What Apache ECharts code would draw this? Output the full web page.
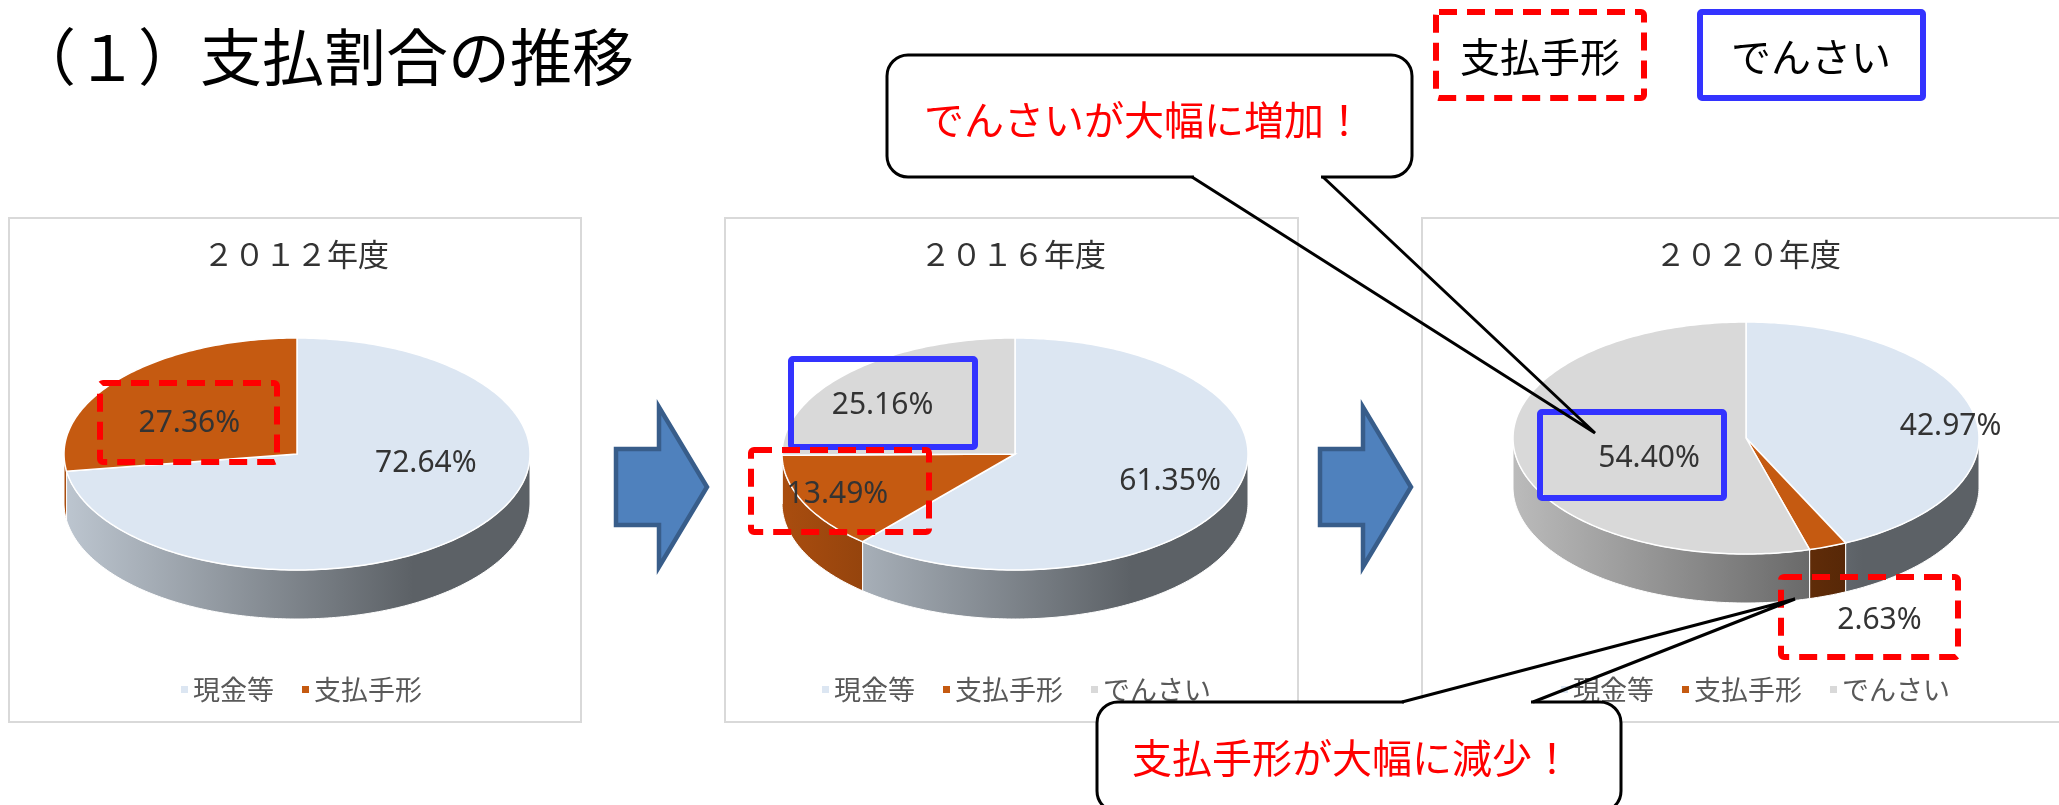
<!DOCTYPE html>
<html lang="ja">
<head>
<meta charset="UTF-8">
<title>支払割合の推移</title>
<style>
  html, body { margin: 0; padding: 0; background: #fff; }
  #main { width: 2059px; height: 805px; }
</style>
</head>
<body>
<div id="main"></div>
<script src="https://cdn.jsdelivr.net/npm/echarts@6/dist/echarts.min.js"></script>
<script>
  // data
  const categories = ['現金等', '支払手形', 'でんさい']
  const years = ['２０１２年度', '２０１６年度', '２０２０年度']
  const share2012 = [72.64, 27.36]
  const share2016 = [61.35, 13.49, 25.16]
  const share2020 = [42.97, 2.63, 54.40]

  const sliceColors = ['#dce6f2', '#c55a11', '#d9d9d9']
  const jp = '"Noto Sans CJK JP", sans-serif'

  // layout of the three pie panels (label = radius factors x/y for the % label)
  const panels = [
    { year: years[0], values: share2012, cx: 297, cy: 454, titleLeft: 203, legendLeft: 176,
      label: [[0.73, 0.12], [0.61, 0.40]] },
    { year: years[1], values: share2016, cx: 1015, cy: 454, titleLeft: 920, legendLeft: 817,
      label: [[0.71, 0.67], [0.84, 0.82], [0.80, 0.59]] },
    { year: years[2], values: share2020, cx: 1746, cy: 438, titleLeft: 1655, legendLeft: 1556,
      label: [[0.90, 0.47], [1.63, 1.68], [0.42, 1.25]] }
  ]
  const rx = 233, ry = 116, depth = 49

  function shade(hex, f) {
    const n = parseInt(hex.slice(1), 16)
    const r = Math.round(((n >> 16) & 255) * f)
    const g = Math.round(((n >> 8) & 255) * f)
    const b = Math.round((n & 255) * f)
    return 'rgb(' + r + ',' + g + ',' + b + ')'
  }

  function makeRender(p, k) {
    return function (params, api) {
      const a0 = api.value(0) * 360
      const a1 = api.value(1) * 360
      const val = api.value(2)
      const pt = (deg, dy) => {
        const r = deg * Math.PI / 180
        return [p.cx + rx * Math.sin(r), p.cy - ry * Math.cos(r) + (dy || 0)]
      }
      const children = []
      // front wall
      const s0 = Math.max(a0, 90), s1 = Math.min(a1, 270)
      if (s1 > s0) {
        const pts = []
        for (let d = s0; d < s1; d += 1) pts.push(pt(d))
        pts.push(pt(s1))
        for (let d = s1; d > s0; d -= 1) pts.push(pt(d, depth))
        pts.push(pt(s0, depth))
        const c = sliceColors[k]
        children.push({
          type: 'polygon', z2: 1, shape: { points: pts },
          style: {
            fill: new echarts.graphic.LinearGradient(p.cx - rx, 0, p.cx + rx, 0, [
              { offset: 0, color: shade(c, 0.86) },
              { offset: 0.75, color: shade(c, 0.42) },
              { offset: 1, color: shade(c, 0.42) }
            ], true),
            stroke: '#fff', lineWidth: 1
          }
        })
      }
      // top face
      const top = [[p.cx, p.cy]]
      for (let d = a0; d < a1; d += 1) top.push(pt(d))
      top.push(pt(a1))
      children.push({
        type: 'polygon', z2: 5, shape: { points: top },
        style: { fill: sliceColors[k], stroke: '#fff', lineWidth: 1.5 }
      })
      // label
      const mid = (a0 + a1) / 2 * Math.PI / 180
      const f = p.label[k]
      children.push({
        type: 'text', z2: 10,
        x: p.cx + rx * f[0] * Math.sin(mid),
        y: p.cy - ry * f[1] * Math.cos(mid),
        style: {
          text: val.toFixed(2) + '%', fill: '#333', fontSize: 30,
          fontFamily: '"Noto Sans", sans-serif', align: 'center', verticalAlign: 'middle'
        }
      })
      return { type: 'group', children: children }
    }
  }

  const series = []
  panels.forEach((p) => {
    const total = p.values.reduce((a, b) => a + b, 0)
    let acc = 0
    p.values.forEach((v, k) => {
      const start = acc / total
      acc += v
      series.push({
        type: 'custom',
        name: categories[k],
        coordinateSystem: 'none',
        itemStyle: { color: sliceColors[k] },
        data: [[start, acc / total, v]],
        renderItem: makeRender(p, k)
      })
    })
  })

  function dashedBox(x, y, w, h) {
    return { type: 'rect', z: 20, shape: { x: x, y: y, width: w, height: h, r: 3 },
      style: { fill: null, stroke: '#ff0000', lineWidth: 6, lineDash: [18, 10] } }
  }
  function blueBox(x, y, w, h) {
    return { type: 'rect', z: 20, shape: { x: x, y: y, width: w, height: h, r: 2 },
      style: { fill: null, stroke: '#3333ff', lineWidth: 6 } }
  }
  function panelRect(x, w) {
    return { type: 'rect', z: 0, shape: { x: x, y: 218, width: w, height: 504 },
      style: { fill: '#fff', stroke: '#d9d9d9', lineWidth: 2 } }
  }
  function arrow(x) {
    return { type: 'polygon', z: 1,
      shape: { points: [[x, 449], [x + 43, 449], [x + 43, 407], [x + 91, 487], [x + 43, 567], [x + 43, 525], [x, 525]] },
      style: { fill: '#4f81bd', stroke: '#385d8a', lineWidth: 4.5 } }
  }
  function callout(box, base, tip, text, tx, ty) {
    const baseY = base[2]
    return [
      { type: 'rect', z: 30, shape: { x: box[0], y: box[1], width: box[2], height: box[3], r: 21 },
        style: { fill: '#fff', stroke: '#000', lineWidth: 3 } },
      { type: 'line', z: 31, shape: { x1: base[0] + 2, y1: baseY, x2: base[1] - 2, y2: baseY },
        style: { stroke: '#fff', lineWidth: 6 } },
      { type: 'polyline', z: 31, shape: { points: [[base[0], baseY], tip, [base[1], baseY]] },
        style: { stroke: '#000', lineWidth: 3, fill: null } },
      { type: 'text', z: 32, x: tx, y: ty,
        style: { text: text, fill: '#ff0000', fontSize: 40, fontFamily: jp, align: 'center', verticalAlign: 'middle' } }
    ]
  }

  const graphics = [
    panelRect(9, 572), panelRect(725, 573), panelRect(1422, 700),
    arrow(616), arrow(1320),
    { type: 'text', z: 10, x: 14, y: 57,
      style: { text: '（１）支払割合の推移', fill: '#000', fontSize: 62, fontFamily: jp, verticalAlign: 'middle' } },
    dashedBox(1436, 12, 208, 86),
    { type: 'text', z: 10, x: 1540, y: 57,
      style: { text: '支払手形', fill: '#000', fontSize: 40, fontFamily: jp, align: 'center', verticalAlign: 'middle' } },
    blueBox(1700, 12, 223, 86),
    { type: 'text', z: 10, x: 1811, y: 57,
      style: { text: 'でんさい', fill: '#000', fontSize: 40, fontFamily: jp, align: 'center', verticalAlign: 'middle' } },
    dashedBox(100, 383, 177, 79),
    blueBox(791, 359, 184, 88),
    dashedBox(751, 450, 178, 82),
    blueBox(1540, 412, 184, 86),
    dashedBox(1781, 577, 177, 80)
  ].concat(
    callout([887, 55, 525, 122], [1192, 1323, 177], [1595, 433], 'でんさいが大幅に増加！', 1144, 120),
    callout([1097, 702, 524, 110], [1402, 1533, 702], [1795, 599], '支払手形が大幅に減少！', 1352, 758)
  )

  const Chart = echarts.init(document.getElementById('main'))

  const option = {
    animation: false,
    title: panels.map((p) => ({
      text: p.year, left: p.titleLeft, top: 239, padding: 0,
      textStyle: { fontSize: 31, fontWeight: 'normal', color: '#333', fontFamily: jp }
    })),
    legend: panels.map((p) => ({
      data: categories.slice(0, p.values.length).map((name, k) => ({ name: name, itemStyle: { color: sliceColors[k] } })),
      left: p.legendLeft, top: 671, icon: 'rect', itemWidth: 7, itemHeight: 7, itemGap: 28,
      selectedMode: false,
      textStyle: { fontSize: 27, color: '#595959', fontFamily: jp }
    })),
    graphic: graphics,
    series: series
  }

  Chart.setOption(option)
</script>
</body>
</html>
